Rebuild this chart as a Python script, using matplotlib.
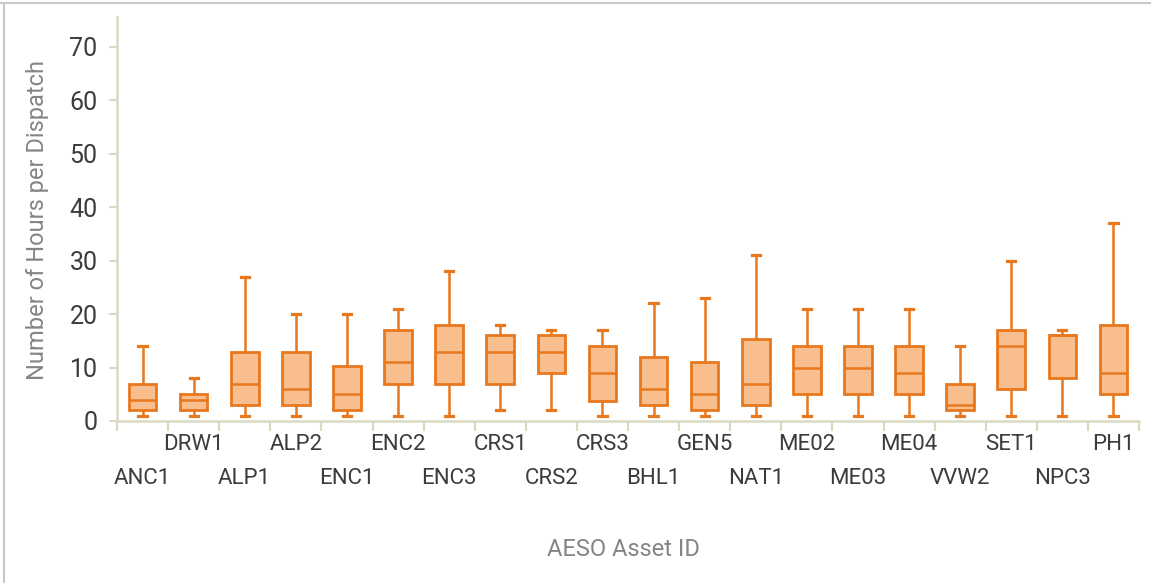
import matplotlib.pyplot as plt
from matplotlib.lines import Line2D

plt.rcParams['font.family'] = ['Roboto', 'DejaVu Sans']

# 데이터 정의
assets = ['ANC1', 'DRW1', 'ALP1', 'ALP2', 'ENC1', 'ENC2', 'ENC3', 'CRS1', 'CRS2', 'CRS3',
          'BHL1', 'GEN5', 'NAT1', 'ME02', 'ME03', 'ME04', 'VVW2', 'SET1', 'NPC3', 'PH1']
whisker_low = [1, 1, 1, 1, 1, 1, 1, 2, 2, 1, 1, 1, 1, 1, 1, 1, 1, 1, 1, 1]
q1 = [2, 2, 3, 3, 2, 7, 7, 7, 9, 3.7, 3, 2, 3, 5, 5, 5, 2, 6, 8, 5]
median = [4, 4, 7, 6, 5, 11, 13, 13, 13, 9, 6, 5, 7, 10, 10, 9, 3, 14, 16, 9]
q3 = [7, 5, 13, 13, 10.2, 17, 18, 16, 16, 14, 12, 11, 15.3, 14, 14, 14, 7, 17, 16, 18]
whisker_high = [14, 8, 27, 20, 20, 21, 28, 18, 17, 17, 22, 23, 31, 21, 21, 21, 14, 30, 17, 37]

orange = '#e8781e'
fill = '#f8be8e'
axis_col = '#dcd9c3'
text_col = '#3c3c3c'
title_col = '#858585'

stats = []
for i in range(len(assets)):
    stats.append({'whislo': whisker_low[i], 'q1': q1[i], 'med': median[i],
                  'q3': q3[i], 'whishi': whisker_high[i], 'fliers': []})

fig = plt.figure(figsize=(11.51, 5.83), dpi=100)
ax = fig.add_axes([117 / 1151, 1 - 421 / 583, 1022 / 1151, (421 - 17) / 583])

pos = list(range(len(assets)))
ax.bxp(stats, positions=pos, widths=0.54, capwidths=0.16, patch_artist=True, showfliers=False,
       boxprops=dict(facecolor=fill, edgecolor=orange, linewidth=2.0),
       medianprops=dict(color=orange, linewidth=1.8),
       whiskerprops=dict(color=orange, linewidth=1.8),
       capprops=dict(color=orange, linewidth=2.3))

# 축 설정
ax.set_xlim(-0.5, len(assets) - 0.5)
ax.set_ylim(0, 75.6)
ax.set_yticks(range(0, 71, 10))
ax.set_xticks([p + 0.5 for p in range(-1, len(assets))])
ax.set_xticklabels([])
for s in ['top', 'right']:
    ax.spines[s].set_visible(False)
for s in ['left', 'bottom']:
    ax.spines[s].set_color(axis_col)
    ax.spines[s].set_linewidth(1.8)
ax.tick_params(axis='y', colors=axis_col, labelcolor=text_col, labelsize=18, length=6, width=1.5, pad=8)
ax.tick_params(axis='x', colors=axis_col, length=7, width=1.5)

# 엇갈린 x축 라벨
for i, name in enumerate(assets):
    y = -0.057 if i % 2 == 1 else -0.143
    ax.text(i, y, name, transform=ax.get_xaxis_transform(), ha='center', va='center',
            fontsize=16, color=text_col)

fig.text(623 / 1151, 1 - 549 / 583, 'AESO Asset ID', ha='center', va='center', fontsize=17,
         color=title_col)
fig.text(38 / 1151, 1 - 220 / 583, 'Number of Hours per Dispatch', ha='center', va='center',
         rotation=90, fontsize=17, color=title_col)

# 테두리
fig.add_artist(Line2D([0, 1], [1 - 2.5 / 583] * 2, color='#c8c8c8', linewidth=1.5, transform=fig.transFigure))
fig.add_artist(Line2D([4 / 1151] * 2, [0, 1 - 2.5 / 583], color='#c8c8c8', linewidth=1.5, transform=fig.transFigure))

fig.savefig('out.png', dpi=100)
